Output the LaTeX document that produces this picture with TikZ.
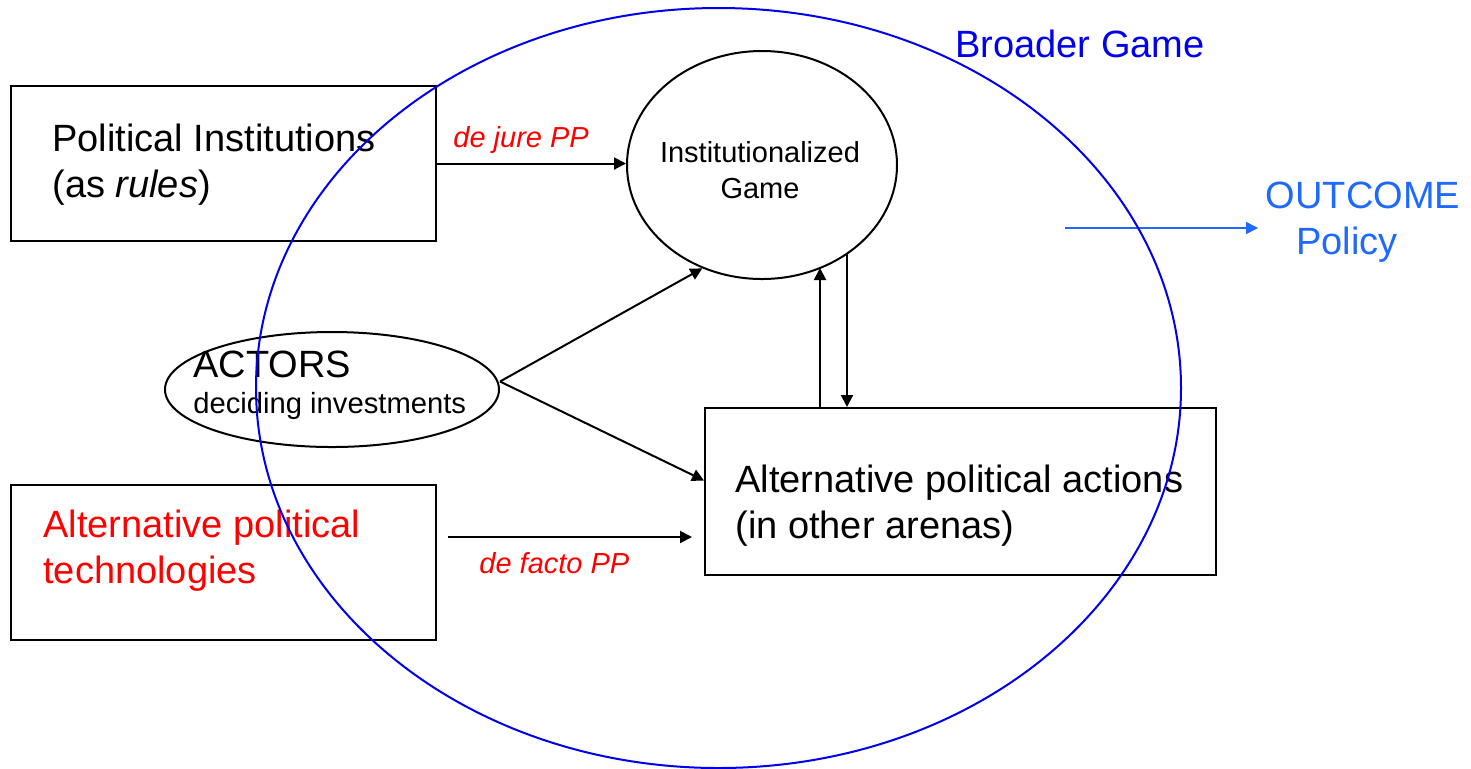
\documentclass[tikz,border=0pt]{standalone}
\usepackage{fontspec}
\setmainfont{Liberation Sans}
\usetikzlibrary{arrows.meta,shapes.geometric}
\definecolor{bgblue}{RGB}{0,0,235}
\definecolor{outblue}{RGB}{30,105,255}
\definecolor{ppred}{RGB}{255,0,0}
\begin{document}
\begin{tikzpicture}[x=0.5pt,y=-0.5pt,
  box/.style={draw,line width=1pt,rectangle,inner sep=0pt,minimum width=212.5pt,minimum height=77.5pt},
  oval/.style={draw,line width=1pt,ellipse,inner sep=0pt},
  txt/.style={inner sep=0pt,anchor=base west,align=left},
  big/.style={font=\fontsize{19}{23}\selectfont},
  small/.style={font=\fontsize{14.5}{18}\selectfont},
  pplabel/.style={txt,text=ppred,font=\fontsize{14.5}{17}\selectfont\itshape},
  arr/.style={line width=1pt,-{Triangle[length=6pt,width=6pt]}},
  outarr/.style={line width=0.75pt,draw=outblue,-{Triangle[length=6pt,width=6pt,fill=outblue]}}]
\useasboundingbox (0,0) rectangle (1471,768);

% boxes
\node[box] (pi) at (223.5,163.5) {};
\node[box] (apt) at (223.5,562.5) {};
\node[box,minimum width=255.5pt,minimum height=83.5pt] (apa) at (960.5,491.5) {};
\node[oval,minimum width=135pt,minimum height=114pt] (ig) at (762,165) {};
\node[oval,minimum width=167pt,minimum height=57.5pt] (ac) at (332,389.5) {};

% texts (base anchor = baseline of the last line)
\node[txt,big] (pit) at (52,197) {Political Institutions\\(as \textit{rules})};
\node[txt,big,text=ppred] (aptt) at (43,583) {Alternative political\\technologies};
\node[txt,big] (apat) at (735,538) {Alternative political actions\\(in other arenas)};
\node[txt,big] (act) at (193,377) {ACTORS};
\node[txt,font=\fontsize{14.6}{17}\selectfont] (dec) at (193,413) {deciding investments};
\node[inner sep=0pt,anchor=base,align=center,small] (igt) at (760,198) {Institutionalized\\Game};
\node[inner sep=0pt,anchor=base,text=bgblue,big] (bgt) at (1080,57) {Broader Game};
\node[inner sep=0pt,anchor=base,text=outblue,big] (out) at (1363,208) {OUTCOME};
\node[inner sep=0pt,anchor=base,text=outblue,big] (pol) at (1347,254) {Policy};
\node[pplabel] (dj) at (453,147) {de jure PP};
\node[pplabel] (df) at (479,573) {de facto PP};

% connectors
\draw[arr] (pi.east) -- (pi.east -| ig.west);
\draw[arr] ([yshift=4pt]ac.east) -- (ig.240);
\draw[arr] ([yshift=4pt]ac.east) -- ([yshift=5.5pt]apa.west);
\coordinate (upend) at (820,268);
\coordinate (dnstart) at (847,254);
\draw[arr] (upend |- apa.north) -- (upend);
\draw[arr] (dnstart) -- (dnstart |- apa.north);
\coordinate (dfs) at (448,537);
\draw[arr,shorten >=6pt] (dfs) -- (dfs -| apa.west);
\coordinate (os) at (1065,228);
\coordinate (oe) at (1258,228);
\draw[outarr] (os) -- (oe);

% broader game ellipse
\node[draw=bgblue,ellipse,line width=1pt,inner sep=0pt,minimum width=462.5pt,minimum height=380pt] (bg) at (718.5,388) {};
\end{tikzpicture}
\end{document}
